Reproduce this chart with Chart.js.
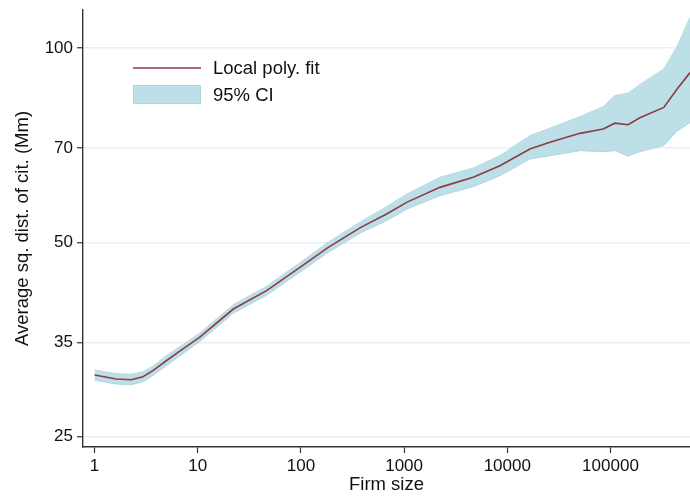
<!DOCTYPE html>
<html>
<head>
<meta charset="utf-8">
<title>Firm size vs citation distance</title>
<script src="https://cdn.jsdelivr.net/npm/chart.js@4"></script>
<style>
  body { margin: 0; background: #fff; }
  #wrap { width: 690px; height: 496px; }
</style>
</head>
<body>
<div id="wrap"><canvas id="myChart" width="690" height="496"></canvas></div>
<script>
'use strict';

//////////////////////
// data
//////////////////////

const firmSize = [1, 1.62, 2.27, 2.94, 3.68, 4.95, 7.19, 10.4, 22.1, 46.5, 97.8, 184, 380, 677, 1057, 2223, 4677, 8480, 16550, 25880, 50600, 85000, 110400, 148000, 192700, 329000, 437000, 590000];
const fitValues = [31.16, 30.71, 30.63, 30.97, 31.64, 32.78, 34.19, 35.62, 39.42, 42.09, 45.73, 49.1, 52.74, 55.33, 57.66, 60.83, 63.04, 65.72, 69.76, 71.42, 73.75, 74.91, 76.48, 76.07, 77.98, 80.91, 86.13, 91.6];
const ciUpper = [31.71, 31.30, 31.24, 31.51, 32.15, 33.37, 34.71, 36.16, 40.03, 42.76, 46.5, 50.03, 53.82, 56.78, 59.37, 63.04, 65.18, 68.11, 73.15, 75.13, 78.28, 81.12, 84.36, 85.11, 87.74, 92.79, 100.2, 111.5];
const ciLower = [30.60, 30.17, 30.09, 30.42, 31.08, 32.20, 33.62, 35.09, 38.84, 41.41, 44.95, 48.28, 51.75, 54.02, 56.27, 59.05, 60.99, 63.42, 67.31, 68.11, 69.34, 69.10, 69.34, 68.03, 69.10, 70.6, 74.25, 76.6];
const xTicks = [1, 10, 100, 1000, 10000, 100000];
const yTicks = [25, 35, 50, 70, 100];
const seriesNames = ['Local poly. fit', '95% CI'];

const lineColor = '#8f3a45';
const bandColor = '#bcdfe8';
const bandEdge = '#aed6e2';
const axisColor = '#333';
const fontFamily = "'Liberation Sans', Arial, sans-serif";

function toPoints(ys) {
    return firmSize.map((x, i) => ({ x: x, y: ys[i] }));
}

// legend sits inside the plot, top left
const insideLegend = {
    id: 'insideLegend',
    afterDraw(chart) {
        const ctx = chart.ctx;
        ctx.save();
        ctx.strokeStyle = lineColor;
        ctx.lineWidth = 1.6;
        ctx.beginPath();
        ctx.moveTo(133, 68);
        ctx.lineTo(201, 68);
        ctx.stroke();

        ctx.fillStyle = bandColor;
        ctx.fillRect(133, 85, 68, 19);
        ctx.strokeStyle = bandEdge;
        ctx.lineWidth = 1;
        ctx.strokeRect(133.5, 85.5, 67, 18);

        ctx.fillStyle = '#111';
        ctx.font = '18.5px ' + fontFamily;
        ctx.textBaseline = 'middle';
        ctx.fillText(seriesNames[0], 213, 69);
        ctx.fillText(seriesNames[1], 213, 96);
        ctx.restore();
    }
};

const data = {
    datasets: [
        {
            label: 'upper',
            data: toPoints(ciUpper),
            borderColor: bandEdge,
            borderWidth: 1,
            backgroundColor: bandColor,
            pointRadius: 0,
            fill: false,
            order: 3
        },
        {
            label: seriesNames[1],
            data: toPoints(ciLower),
            borderColor: bandEdge,
            borderWidth: 1,
            backgroundColor: bandColor,
            pointRadius: 0,
            fill: '-1',
            order: 2
        },
        {
            label: seriesNames[0],
            data: toPoints(fitValues),
            borderColor: lineColor,
            borderWidth: 1.6,
            pointRadius: 0,
            fill: false,
            order: 1
        }
    ]
};

const config = {
    type: 'line',
    data: data,
    options: {
        responsive: false,
        devicePixelRatio: 1,
        animation: false,
        layout: { padding: { top: 10, right: 0, left: 0, bottom: 0 } },
        plugins: {
            legend: { display: false },
            tooltip: { enabled: false }
        },
        scales: {
            x: {
                type: 'logarithmic',
                min: 0.772,
                max: 590000,
                afterBuildTicks: (scale) => { scale.ticks = xTicks.map(v => ({ value: v })); },
                afterFit: (scale) => {
                    scale.height = 49;
                    scale.paddingLeft = 0;
                    scale.paddingRight = 0;
                },
                ticks: {
                    autoSkip: false,
                    maxRotation: 0,
                    padding: 3,
                    color: '#111',
                    font: { family: fontFamily, size: 17 },
                    callback: (v) => String(v)
                },
                grid: {
                    drawOnChartArea: false,
                    tickLength: 6,
                    tickColor: axisColor,
                    tickWidth: 1.2
                },
                border: { display: true, color: axisColor, width: 1.4 },
                title: {
                    display: true,
                    text: 'Firm size',
                    color: '#111',
                    font: { family: fontFamily, size: 18.5 },
                    padding: { top: 0, bottom: 0 }
                }
            },
            y: {
                type: 'logarithmic',
                min: 24.1,
                max: 114.5,
                afterBuildTicks: (scale) => { scale.ticks = yTicks.map(v => ({ value: v })); },
                afterFit: (scale) => {
                    scale.width = 83;
                    scale.paddingTop = 0;
                    scale.paddingBottom = 0;
                },
                ticks: {
                    autoSkip: false,
                    padding: 4,
                    color: '#111',
                    font: { family: fontFamily, size: 17 },
                    callback: (v) => String(v)
                },
                grid: {
                    color: '#e8f0f2',
                    lineWidth: 1.5,
                    tickLength: 6,
                    tickColor: axisColor,
                    tickWidth: 1.2
                },
                border: { display: true, color: axisColor, width: 1.4 },
                title: {
                    display: true,
                    text: 'Average sq. dist. of cit. (Mm)',
                    color: '#111',
                    font: { family: fontFamily, size: 18.5 },
                    padding: { top: 12, bottom: 0 }
                }
            }
        }
    },
    plugins: [insideLegend]
};

let canvasChart = document.getElementById('myChart');
const myChart = new Chart(canvasChart, config);
</script>
</body>
</html>
